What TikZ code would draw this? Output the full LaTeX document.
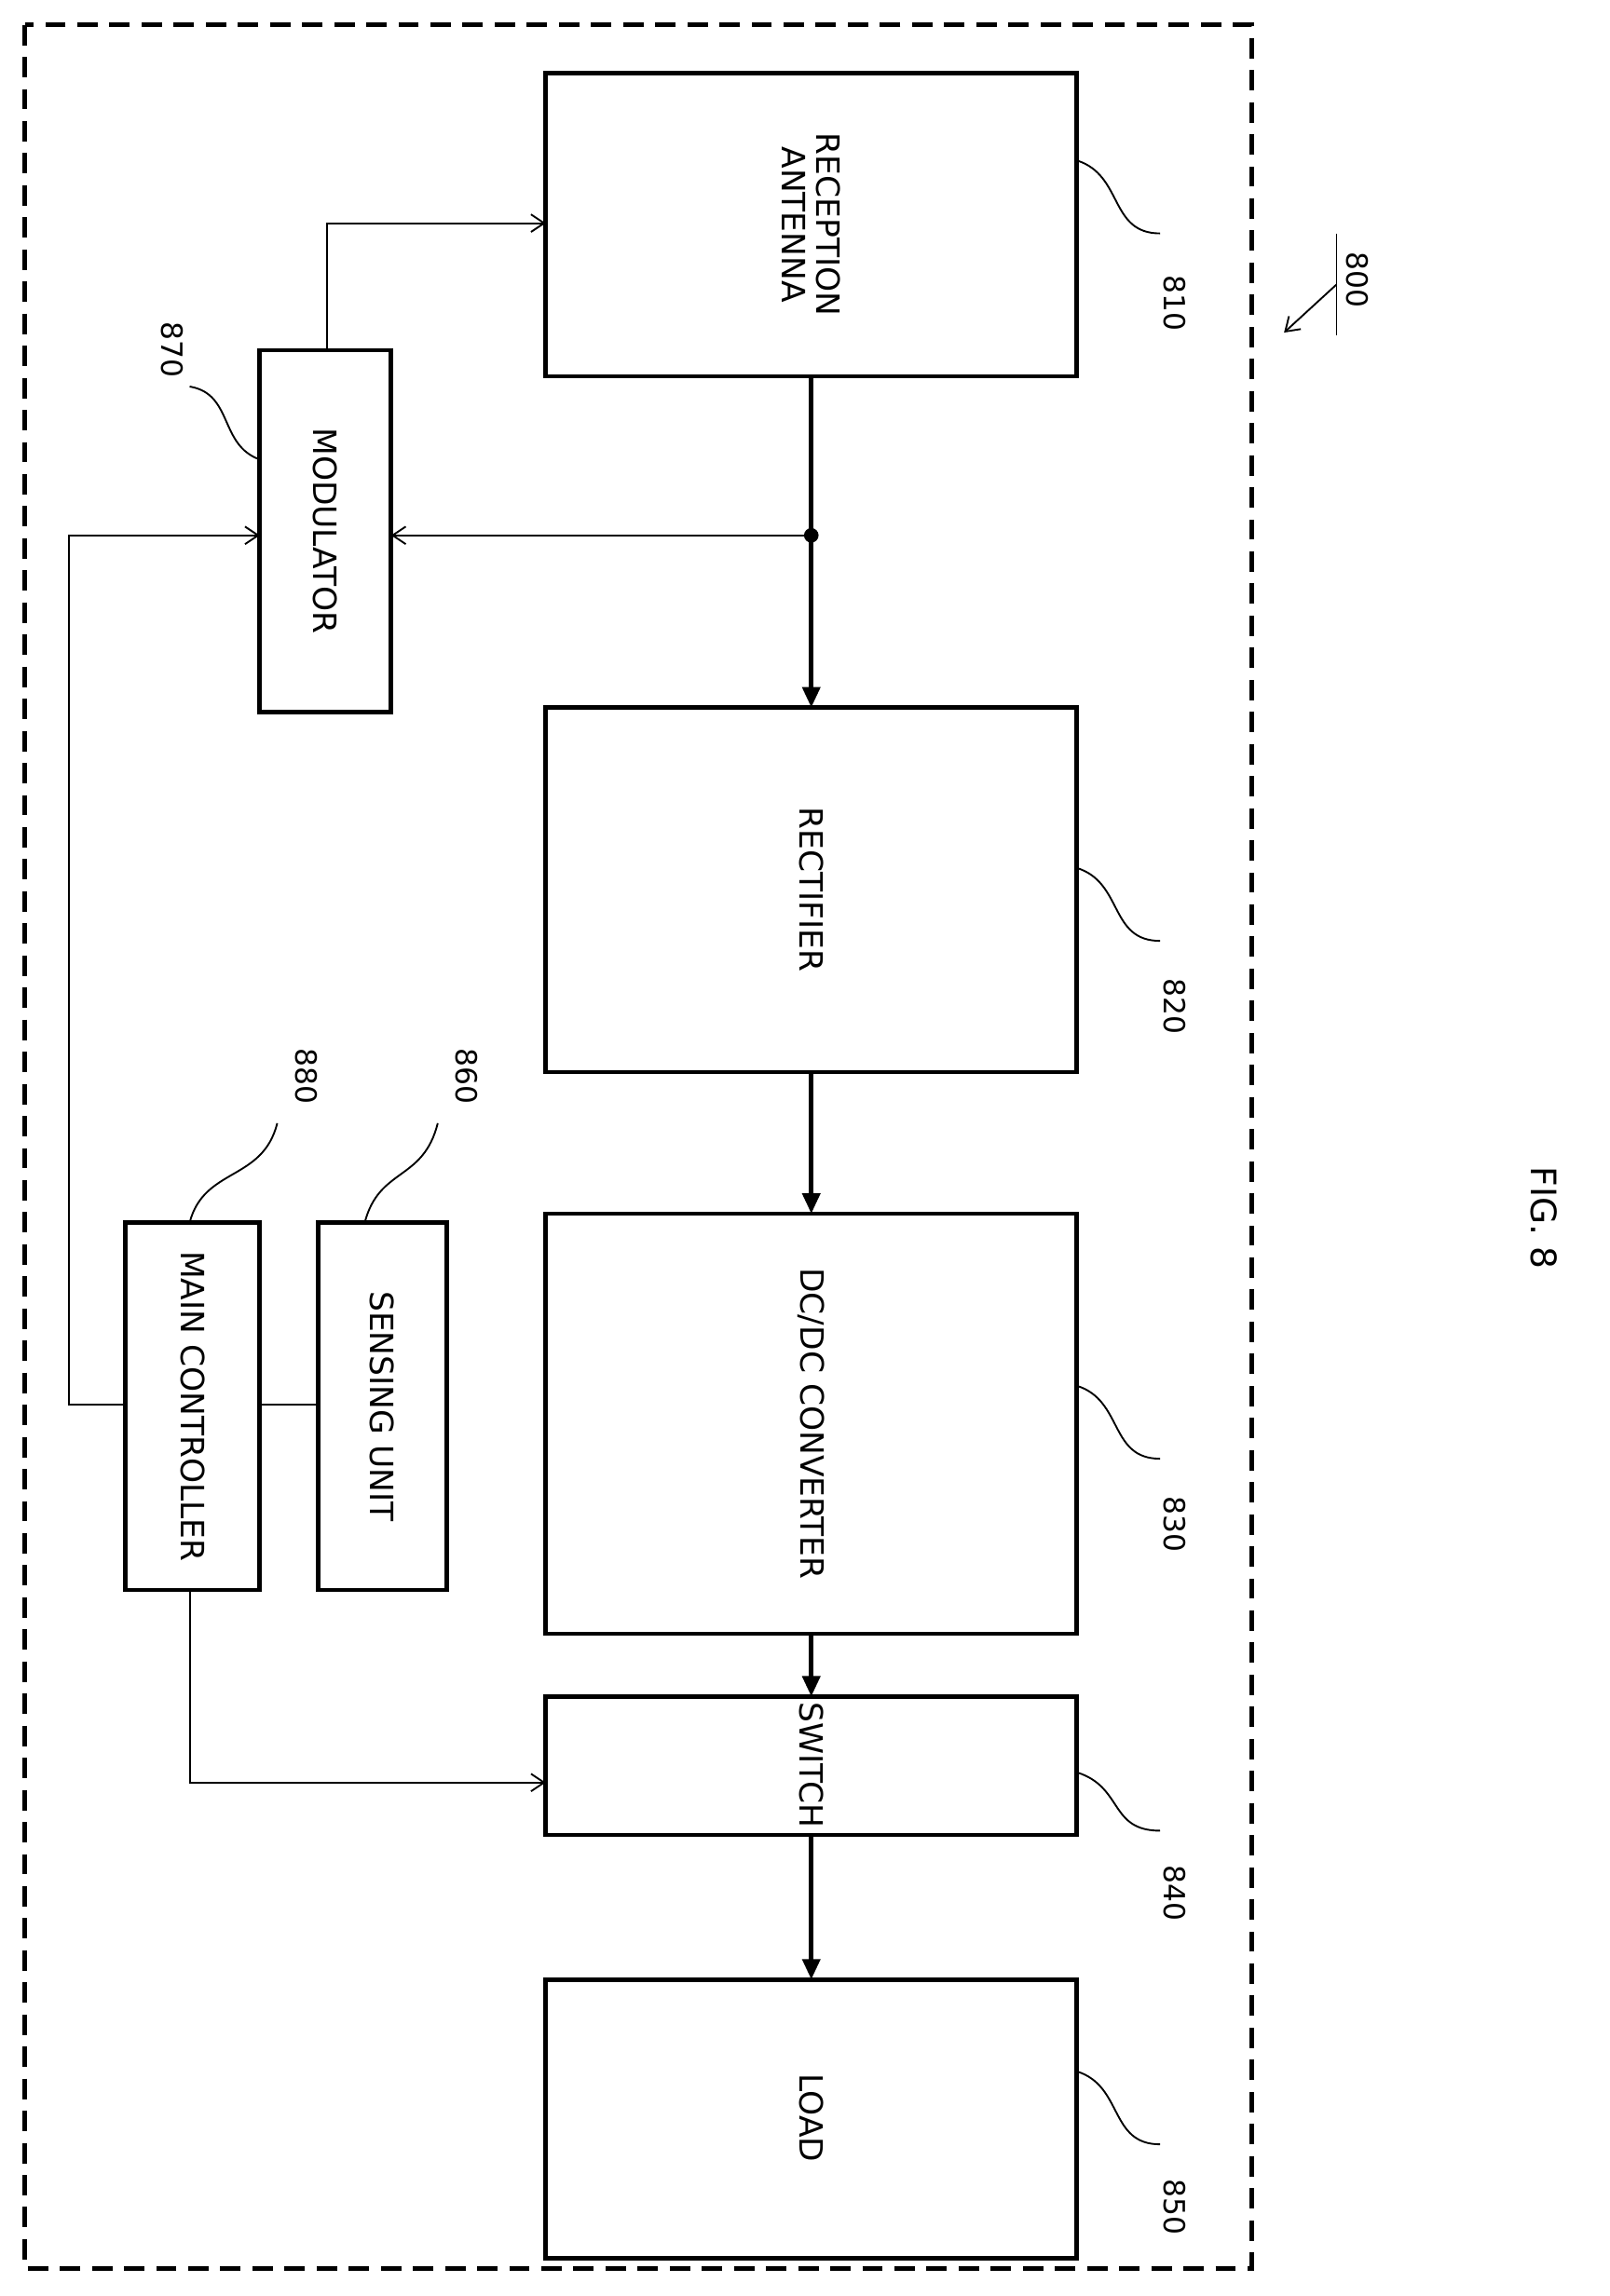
\documentclass[tikz,border=0pt]{standalone}
\usepackage{fontspec}
\setmainfont{DejaVu Sans}
\usetikzlibrary{arrows.meta}
\begin{document}
\begin{tikzpicture}[x=1pt,y=-1pt,
    block/.style={draw, line width=3pt},
    lbl/.style={rotate=-90, font=\fontsize{22}{24}\selectfont, align=center},
    num/.style={rotate=-90, font=\fontsize{20}{22}\selectfont},
    thin/.style={line width=1.2pt, -{Straight Barb[length=9pt,width=12pt]}},
    bus/.style={line width=3pt, -{Triangle[length=14pt,width=12pt]}},
    lead/.style={line width=1.2pt}
]
\useasboundingbox (0,0) rectangle (1103,1574);
\draw[line width=3pt, dash pattern=on 14pt off 8pt] (17,17) rectangle (858,1555);

% blocks
\draw[block] (374,50) rectangle (738,258);
\node[lbl] (antenna) at (556,154) {RECEPTION\\ANTENNA};
\draw[block] (374,485) rectangle (738,735);
\node[lbl] (rect) at (556,610) {RECTIFIER};
\draw[block] (374,832) rectangle (738,1120);
\node[lbl] (dcdc) at (556,976) {DC/DC CONVERTER};
\draw[block] (374,1163) rectangle (738,1258);
\node[lbl] (switch) at (556,1210) {SWITCH};
\draw[block] (374,1357) rectangle (738,1548);
\node[lbl] (load) at (556,1452) {LOAD};
\draw[block] (178,240) rectangle (268,488);
\node[lbl] (mod) at (223,364) {MODULATOR};
\draw[block] (86,838) rectangle (178,1090);
\node[lbl] (ctrl) at (132,964) {MAIN CONTROLLER};
\draw[block] (218,838) rectangle (306,1090);
\node[lbl] (sense) at (262,964) {SENSING UNIT};

% connectors
\coordinate (tap) at (556,367);
\draw[bus] (556,258) -- (556,485);
\fill (tap) circle (5pt);
\draw[thin] (tap) -- (268,367);
\draw[thin] (224,240) -- (224,153) -- (374,153);
\draw[bus] (556,735) -- (556,832);
\draw[bus] (556,1120) -- (556,1163);
\draw[bus] (556,1258) -- (556,1357);
\draw[thin] (86,963) -- (47,963) -- (47,367) -- (178,367);
\draw[lead] (178,963) -- (218,963);
\draw[thin] (130,1090) -- (130,1222) -- (374,1222);

% reference numerals
\draw[lead] (738,110) .. controls (770,120) and (760,160) .. (795,160);
\node[num] at (805,208) {810};
\draw[lead] (738,595) .. controls (770,605) and (760,645) .. (795,645);
\node[num] at (805,690) {820};
\draw[lead] (738,950) .. controls (770,960) and (760,1000) .. (795,1000);
\node[num] at (805,1045) {830};
\draw[lead] (738,1215) .. controls (770,1225) and (760,1255) .. (795,1255);
\node[num] at (805,1298) {840};
\draw[lead] (738,1420) .. controls (770,1430) and (760,1470) .. (795,1470);
\node[num] at (805,1513) {850};
\draw[lead] (178,315) .. controls (150,305) and (160,270) .. (130,265);
\node[num] at (118,240) {870};
\draw[lead] (130,838) .. controls (140,800) and (180,810) .. (190,770);
\node[num] at (210,738) {880};
\draw[lead] (250,838) .. controls (260,800) and (290,810) .. (300,770);
\node[num] at (320,738) {860};
\node[num] (n800) at (930,192) {800};
\draw[lead] (916,160) -- (916,230);
\draw[thin] (916,195) -- (880,228);
\node[rotate=-90, font=\fontsize{24}{26}\selectfont] (fig) at (1058,835) {FIG. 8};
\end{tikzpicture}
\end{document}
